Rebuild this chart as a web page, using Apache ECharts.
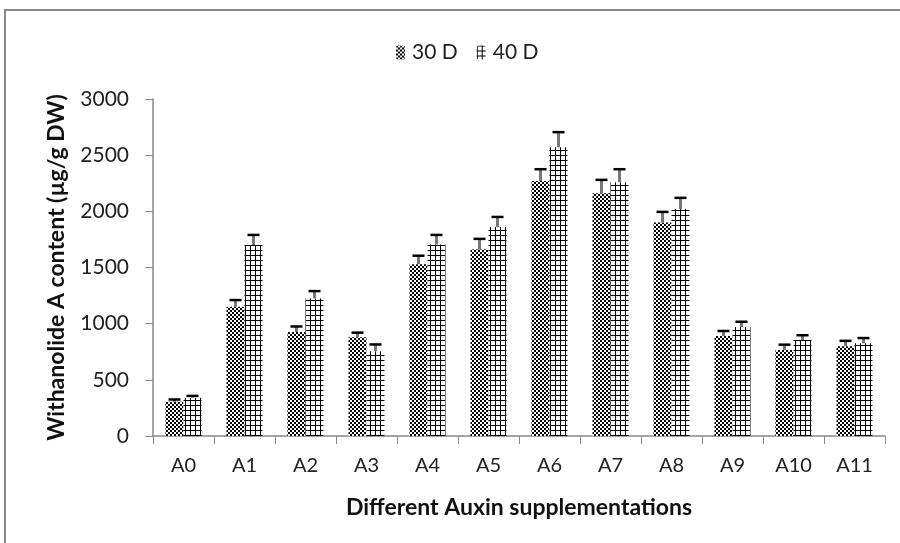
<!DOCTYPE html>
<html><head><meta charset="utf-8">
<script src="https://cdn.jsdelivr.net/npm/echarts@6/dist/echarts.min.js"></script>
<style>html,body{margin:0;padding:0;background:#fff}#c{width:900px;height:543px}</style>
</head><body><div id="c"></div>
<script>
const categories = ['A0','A1','A2','A3','A4','A5','A6','A7','A8','A9','A10','A11'];
const d30 = [305, 1150, 925, 880, 1530, 1660, 2270, 2160, 1900, 890, 765, 800];
const d40 = [340, 1700, 1225, 755, 1705, 1860, 2570, 2260, 2020, 970, 855, 825];
const e30 = [20, 60, 50, 40, 75, 95, 105, 120, 95, 45, 48, 47];
const e40 = [17, 90, 65, 60, 85, 90, 135, 115, 100, 47, 42, 47];
const yTicks = [0, 500, 1000, 1500, 2000, 2500, 3000];

function pat30(){
  const c=document.createElement('canvas'); c.width=4; c.height=4;
  const g=c.getContext('2d'); g.fillStyle='#fff'; g.fillRect(0,0,4,4);
  g.fillStyle='#000'; g.fillRect(0,0,2,2); g.fillRect(2,2,2,2);
  g.fillRect(1,1,1,1);
  return c;
}
function pat40(){
  const c=document.createElement('canvas'); c.width=5; c.height=5;
  const g=c.getContext('2d'); g.fillStyle='#fff'; g.fillRect(0,0,5,5);
  g.fillStyle='#000'; g.fillRect(0,0,1,5); g.fillRect(0,0,5,1);
  return c;
}
const P30 = {image: pat30(), repeat:'repeat'};
const P40 = {image: pat40(), repeat:'repeat'};
const BW = 18;
const FONT = 'Lato';

function errSeries(vals, errs, off){
  return {
    type:'custom', silent:true, z:5,
    data: vals.map((v,i)=>[i, v, errs[i]]),
    renderItem: function(params, api){
      const i=api.value(0), v=api.value(1), e=api.value(2);
      const p0=api.coord([i,v]); const p1=api.coord([i,v+e]);
      const x=p0[0]+off;
      return {type:'group', children:[
        {type:'line', shape:{x1:x,y1:p0[1],x2:x,y2:p1[1]}, style:{stroke:'#777',lineWidth:3}},
        {type:'line', shape:{x1:x-6,y1:p1[1],x2:x+6,y2:p1[1]}, style:{stroke:'#000',lineWidth:2.5}}
      ]};
    }
  };
}

const chart = echarts.init(document.getElementById('c'));
chart.setOption({
  animation:false,
  backgroundColor:'#fff',
  graphic:[{type:'rect', shape:{x:5,y:10,width:910,height:545}, style:{fill:null, stroke:'#888', lineWidth:2}, silent:true}],
  legend:{
    top:37, left:391, itemWidth:9, itemHeight:14, itemGap:19,
    textStyle:{fontFamily:FONT, fontSize:21, color:'#222', padding:[0,0,0,2]},
    data:['30 D','40 D']
  },
  grid:{left:153, right:15, top:99, bottom:107},
  xAxis:{
    type:'category', data:categories,
    axisLine:{lineStyle:{color:'#888', width:1.5}},
    axisTick:{show:true, length:8, lineStyle:{color:'#888'}},
    axisLabel:{fontFamily:FONT, fontSize:20, color:'#222', margin:20},
    name:'Different Auxin supplementations', nameLocation:'middle', nameGap:60,
    nameTextStyle:{fontFamily:FONT, fontSize:23, fontWeight:'bold', color:'#111'}
  },
  yAxis:{
    type:'value', min:yTicks[0], max:yTicks[yTicks.length-1], interval:500,
    splitLine:{show:false},
    axisLine:{show:true, lineStyle:{color:'#888', width:1.5}},
    axisTick:{show:true, length:8, lineStyle:{color:'#888'}},
    axisLabel:{fontFamily:FONT, fontSize:21, color:'#222', margin:24, formatter: v => String(v)},
    name:'Withanolide A content (µg/g DW)', nameLocation:'middle', nameGap:85,
    nameTextStyle:{fontFamily:FONT, fontSize:23, fontWeight:'bold', color:'#111'}
  },
  series:[
    {name:'30 D', type:'bar', data:d30, barWidth:BW, barGap:'0%', itemStyle:{color:P30}},
    {name:'40 D', type:'bar', data:d40, barWidth:BW, barGap:'0%', itemStyle:{color:P40}},
    errSeries(d30, e30, -BW/2),
    errSeries(d40, e40, BW/2)
  ]
});
</script></body></html>
